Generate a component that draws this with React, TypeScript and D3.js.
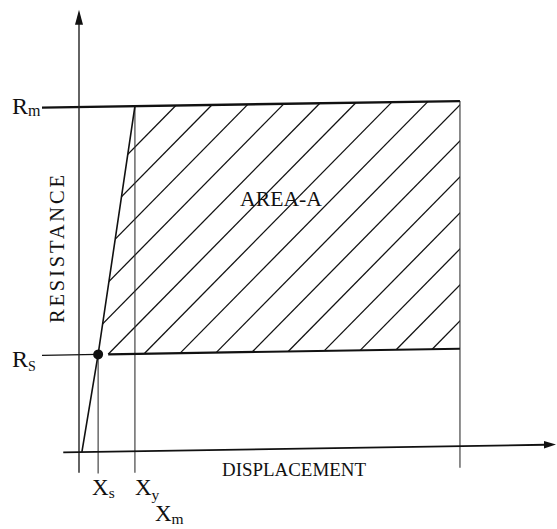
import { useEffect, useRef } from "react";
import * as d3 from "d3";

// key resistance levels (R_s, R_m) and their subscripts
const resistanceSubs = ["S", "m"];
const resistanceValues = [22, 78];

// key displacements (X_s, X_y, X_m)
const displacementSubs = ["s", "y", "m"];
const displacementValues = [4, 11.7, 79.7];

// elastic loading branch: origin -> (X_s, R_s) -> (X_y, R_m)
const loadingCurve: [number, number][] = [
  [0.6, 0],
  [4, 22],
  [11.7, 78],
];

// hatching starts here on the R_s line
const hatchStart = 6.1;

const W = 557;
const H = 529;
const INK = "#111";
const FONT = "'Liberation Serif', 'Times New Roman', serif";
const HATCH_GAP = 36;

export default function App() {
  const ref = useRef<SVGSVGElement | null>(null);

  useEffect(() => {
    const el = ref.current;
    if (!el) return;
    const svg = d3.select(el);
    svg.selectAll("*").remove();

    const x = d3.scaleLinear().domain([0, 100]).range([79, 557]);
    const y = d3.scaleLinear().domain([0, 100]).range([453.3, 11]);

    const [rs, rm] = resistanceValues;
    const [xs, xy, xm] = displacementValues;

    // the scanned figure is slightly tilted
    const g = svg.append("g").attr("transform", "skewY(-0.9)");

    // hatched area A
    const clip = `clip-${Math.random().toString(36).slice(2)}`;
    svg
      .append("defs")
      .append("clipPath")
      .attr("id", clip)
      .append("polygon")
      .attr(
        "points",
        [
          [x(xs), y(rs)],
          [x(xy), y(rm)],
          [x(xm), y(rm)],
          [x(xm), y(rs)],
        ]
          .map((p) => p.join(","))
          .join(" ")
      );

    const T = y(rs) - y(rm);
    const c0 = x(hatchStart);
    const offsets: number[] = [];
    for (let c = c0 - HATCH_GAP * 5; c <= x(xm); c += HATCH_GAP) offsets.push(c);
    g.append("g")
      .attr("clip-path", `url(#${clip})`)
      .selectAll("line")
      .data(offsets)
      .join("line")
      .attr("x1", (c) => c)
      .attr("y1", y(rs))
      .attr("x2", (c) => c + T)
      .attr("y2", y(rm))
      .attr("stroke", INK)
      .attr("stroke-width", 1.3);

    // vertical drop lines
    const dropBottom = y(-4.9);
    g.append("line")
      .attr("x1", x(xs)).attr("x2", x(xs))
      .attr("y1", y(rs)).attr("y2", dropBottom)
      .attr("stroke", "#333").attr("stroke-width", 1.1);
    g.append("line")
      .attr("x1", x(xy)).attr("x2", x(xy))
      .attr("y1", y(rm)).attr("y2", dropBottom)
      .attr("stroke", "#333").attr("stroke-width", 1.1);
    g.append("line")
      .attr("x1", x(xm)).attr("x2", x(xm))
      .attr("y1", y(rm)).attr("y2", dropBottom)
      .attr("stroke", "#333").attr("stroke-width", 1.1);

    // resistance levels
    g.append("line")
      .attr("x1", 42).attr("x2", x(xm))
      .attr("y1", y(rm)).attr("y2", y(rm))
      .attr("stroke", INK).attr("stroke-width", 2.4);
    g.append("line")
      .attr("x1", 42).attr("x2", x(xs))
      .attr("y1", y(rs)).attr("y2", y(rs))
      .attr("stroke", INK).attr("stroke-width", 1.2);
    g.append("line")
      .attr("x1", x(hatchStart)).attr("x2", x(xm))
      .attr("y1", y(rs)).attr("y2", y(rs))
      .attr("stroke", INK).attr("stroke-width", 2.2);

    // axes
    g.append("line")
      .attr("x1", x(0)).attr("x2", x(0))
      .attr("y1", y(-4.7)).attr("y2", y(97))
      .attr("stroke", "#222").attr("stroke-width", 1.4);
    g.append("path")
      .attr("d", `M${x(0)},${y(100)} L${x(0) - 4},${y(100) + 15} L${x(0) + 4},${y(100) + 15} Z`)
      .attr("fill", INK);
    g.append("line")
      .attr("x1", x(-3.3)).attr("x2", x(97.5))
      .attr("y1", y(0)).attr("y2", y(0))
      .attr("stroke", INK).attr("stroke-width", 1.8);
    g.append("path")
      .attr("d", `M${x(100) - 1},${y(0)} L${x(100) - 13},${y(0) - 3.8} L${x(100) - 13},${y(0) + 3.8} Z`)
      .attr("fill", INK);

    // loading branch
    g.append("path")
      .datum(loadingCurve)
      .attr("d", d3.line<[number, number]>().x((d) => x(d[0])).y((d) => y(d[1])))
      .attr("fill", "none")
      .attr("stroke", INK)
      .attr("stroke-width", 1.6);

    g.append("circle")
      .attr("cx", x(xs))
      .attr("cy", y(rs))
      .attr("r", 5)
      .attr("fill", INK);

    // labels
    const t = svg.append("g").attr("font-family", FONT).attr("fill", INK);

    const rOff = [11, 5.5];
    const subDy = [4.5, 2];
    resistanceValues.forEach((v, i) => {
      const lbl = t.append("text").attr("x", 12).attr("y", y(v) + rOff[i]).attr("font-size", 24);
      lbl.append("tspan").text("R");
      lbl.append("tspan").attr("font-size", i === 0 ? 14 : 16).attr("dy", subDy[i]).text(resistanceSubs[i]);
    });

    const xOff = [-6, 0, 20];
    const xBase = [495, 495, 521];
    const xSubDy = [3, 4.5, 3];
    displacementValues.forEach((v, i) => {
      const lbl = t
        .append("text")
        .attr("x", (i === 2 ? x(xy) : x(v)) + xOff[i])
        .attr("y", xBase[i])
        .attr("font-size", 23);
      lbl.append("tspan").text("X");
      lbl.append("tspan").attr("font-size", 15.5).attr("dy", xSubDy[i]).text(displacementSubs[i]);
    });

    t.append("text")
      .attr("transform", "translate(64,249) rotate(-90)")
      .attr("text-anchor", "middle")
      .attr("font-size", 20.5)
      .attr("textLength", 148)
      .attr("lengthAdjust", "spacing")
      .text("RESISTANCE");

    t.append("text")
      .attr("x", 222)
      .attr("y", 476)
      .attr("font-size", 19)
      .attr("textLength", 144)
      .attr("lengthAdjust", "spacingAndGlyphs")
      .text("DISPLACEMENT");

    t.append("text")
      .attr("x", 240)
      .attr("y", 206)
      .attr("font-size", 21)
      .attr("textLength", 82)
      .attr("lengthAdjust", "spacingAndGlyphs")
      .text("AREA-A");
  }, []);

  return (
    <svg
      ref={ref}
      width={W}
      height={H}
      style={{ position: "absolute", left: 0, top: 0, background: "#fff" }}
    />
  );
}
